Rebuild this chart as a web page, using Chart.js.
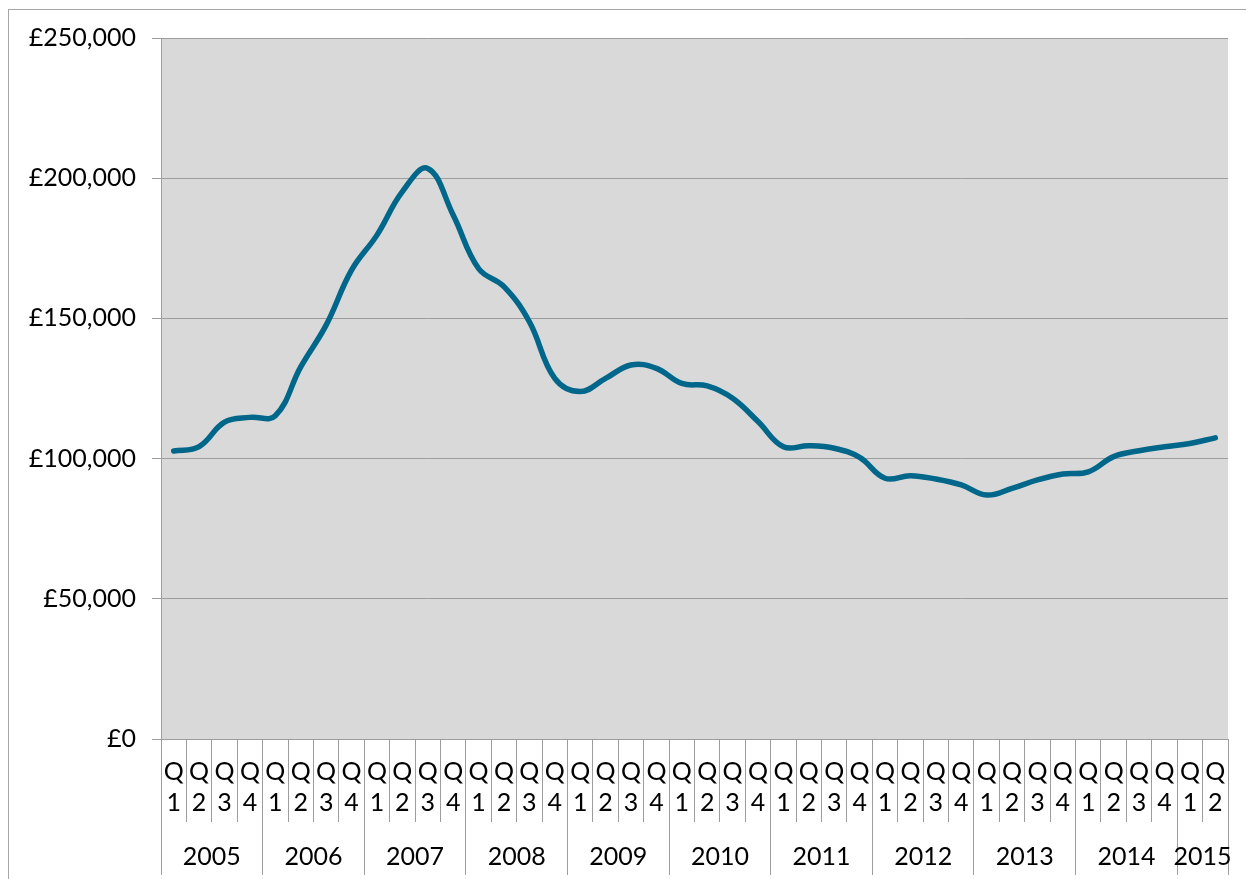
<!DOCTYPE html>
<html lang="en">
<head>
<meta charset="utf-8">
<title>Average price by quarter</title>
<script src="https://cdn.jsdelivr.net/npm/chart.js"></script>
<style>
  html,body{margin:0;padding:0;background:#fff;overflow:hidden;}
  #frame{position:absolute;left:8px;top:9px;width:1260px;height:900px;
         border-left:1px solid #a6a6a6;border-top:1px solid #a6a6a6;}
  #wrap{position:absolute;left:0;top:0;width:1246px;height:879px;}
</style>
</head>
<body>
<div id="frame"></div>
<div id="wrap"><canvas id="myChart" width="1246" height="879"></canvas></div>

<script>
/* ── data ─────────────────────────────────────────────── */
const years    = ['2005','2006','2007','2008','2009','2010','2011','2012','2013','2014','2015'];
const qPerYear = [4,4,4,4,4,4,4,4,4,4,2];
const prices   = [
  102700,104300,113000,114700,115300,      // 2005 Q1 .. 2006 Q1
  132700,147600,167200,179700,195200,      // 2006 Q2 .. 2007 Q2
  203500,186900,167800,161300,148800,      // 2007 Q3 .. 2008 Q3
  128600,123900,128600,133400,132200,      // 2008 Q4 .. 2009 Q4
  126800,125900,121500,113200,104200,      // 2010 Q1 .. 2011 Q1
  104600,103700,100400, 93000, 93900,      // 2011 Q2 .. 2012 Q2
   92700, 90600, 87000, 89400, 92400,      // 2012 Q3 .. 2013 Q3
   94500, 95300,100700,102800,104200,      // 2013 Q4 .. 2014 Q4
  105400,107400                            // 2015 Q1 .. Q2
];

// quarter category labels, two lines each ("Q" over number)
const quarterLabels = [];
qPerYear.forEach(n => { for(let q=1;q<=n;q++) quarterLabels.push(['Q', String(q)]); });

// year axis: boundaries between years and the centre of each year block
const yearEdges = [-0.5], yearCentres = [];
let pos = 0;
qPerYear.forEach(n => { yearCentres.push(pos + (n-1)/2); pos += n; yearEdges.push(pos - 0.5); });
const edgeSet = new Set(yearEdges);

const GRID = '#9d9d9d';
const FONT = {family:'Lato, "DejaVu Sans", sans-serif', size:25};

/* ── plot area background ─────────────────────────────── */
const bgPlugin = {
  id:'plotBg',
  beforeDraw(chart){
    const {ctx, chartArea:a} = chart;
    ctx.save();
    ctx.fillStyle = '#d9d9d9';
    ctx.fillRect(a.left, a.top, a.right-a.left, a.bottom-a.top);
    ctx.restore();
  }
};

new Chart(document.getElementById('myChart'), {
  type:'line',
  data:{
    labels: quarterLabels,
    datasets:[{
      data: prices,
      borderColor:'#00678a',
      borderWidth:5.5,
      borderCapStyle:'round',
      pointRadius:0,
      tension:0.4,
      fill:false
    }]
  },
  options:{
    responsive:false,
    animation:false,
    layout:{padding:{top:38,right:18,left:0,bottom:4}},
    plugins:{legend:{display:false},tooltip:{enabled:false}},
    scales:{
      x:{
        type:'category',
        offset:true,
        weight:0,
        grid:{offset:true,drawOnChartArea:false,color:GRID,tickLength:83},
        border:{display:true,color:GRID},
        ticks:{color:'#000',font:{...FONT,lineHeight:1.26},padding:-66,autoSkip:false,maxRotation:0},
        afterFit(s){ s.height = 83; }
      },
      x2:{
        type:'linear',
        position:'bottom',
        weight:1,
        min:-0.5, max:41.5,
        grid:{drawOnChartArea:false,tickLength:53,
              color: c => (c.tick && edgeSet.has(c.tick.value)) ? GRID : 'rgba(0,0,0,0)'},
        border:{display:false},
        afterBuildTicks(s){
          s.ticks = [...yearEdges, ...yearCentres].sort((a,b)=>a-b).map(v=>({value:v}));
        },
        ticks:{color:'#000',font:FONT,padding:-33,autoSkip:false,maxRotation:0,
               callback(v){ const i = yearCentres.indexOf(v); return i>-1 ? years[i] : ''; }},
        afterFit(s){ s.height = 53; }
      },
      y:{
        min:0, max:250000,
        grid:{color:GRID,tickLength:9},
        border:{display:true,color:GRID},
        ticks:{stepSize:50000,color:'#000',font:FONT,padding:16,
               callback:v => '£' + v.toLocaleString('en-GB')},
        afterFit(s){ s.width = 161; }
      }
    }
  },
  plugins:[bgPlugin]
});
</script>
</body>
</html>
